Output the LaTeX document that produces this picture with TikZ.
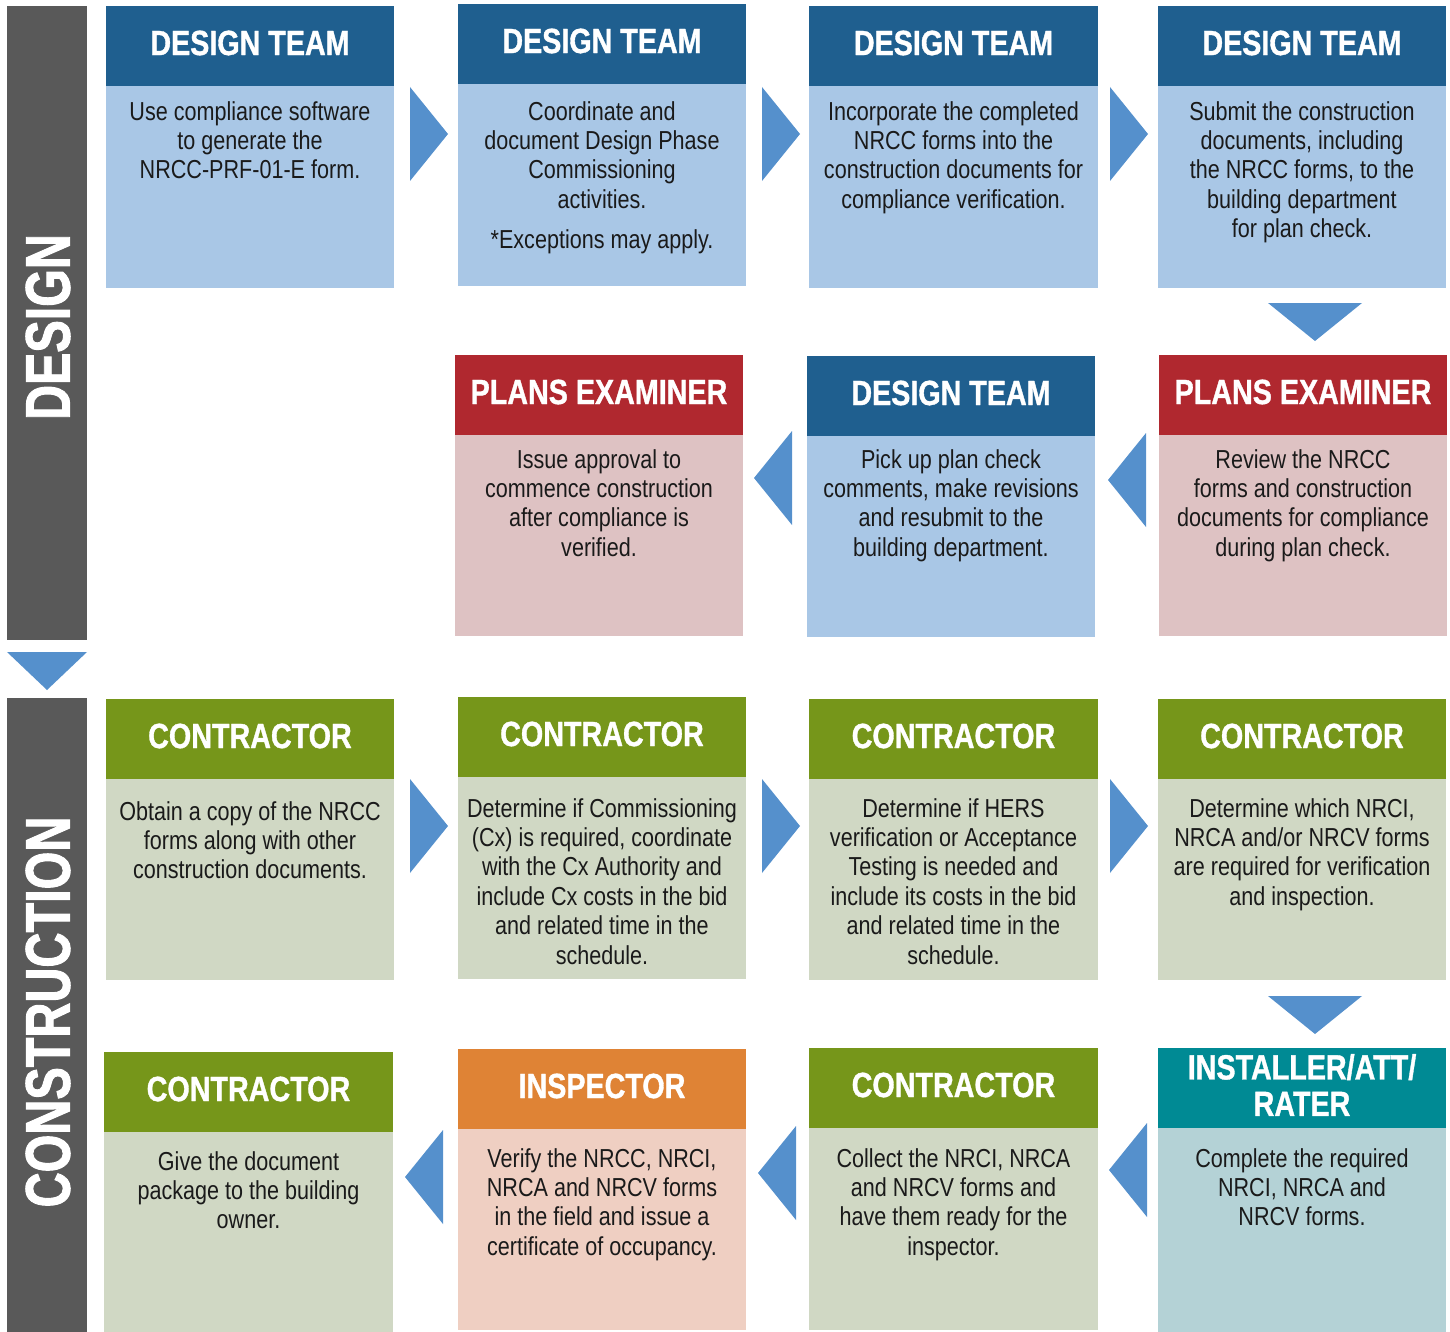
\documentclass[tikz,border=0pt]{standalone}
\usepackage{fontspec}
\setmainfont{Liberation Sans}[FakeStretch=0.83]
\newfontfamily\hdfont{Liberation Sans Bold}[FakeStretch=0.82, FakeBold=1]
\newfontfamily\sidefont{Liberation Sans Bold}[FakeStretch=0.77, FakeBold=1.5]
\definecolor{dtHead}{HTML}{1F5F8F}
\definecolor{dtBody}{HTML}{A9C7E6}
\definecolor{peHead}{HTML}{B0282F}
\definecolor{peBody}{HTML}{DEC2C3}
\definecolor{coHead}{HTML}{76961A}
\definecolor{coBody}{HTML}{D0D8C4}
\definecolor{inHead}{HTML}{DF8335}
\definecolor{inBody}{HTML}{EFCFC2}
\definecolor{raHead}{HTML}{008A94}
\definecolor{raBody}{HTML}{B4D2D6}
\definecolor{arrowBlue}{HTML}{5590CC}
\definecolor{barGray}{HTML}{595959}
\definecolor{bodyInk}{HTML}{1A1A1A}
\tikzset{
  boxrect/.style={draw=none, rectangle, inner sep=0pt, outer sep=0pt, anchor=north west},
  headtext/.style={font=\hdfont\fontsize{35}{36.5}\selectfont, text=white, inner sep=0pt, align=center},
  bodytext/.style={font=\fontsize{26}{29.4}\selectfont, text=bodyInk, inner sep=0pt, align=center, anchor=north},
  sidetext/.style={font=\sidefont\fontsize{63}{63}\selectfont, text=white, inner sep=0pt, rotate=90},
  flowarrow/.style={fill=arrowBlue, draw=none}
}
% #1 name, #2 left, #3 right, #4 top, #5 bottom, #6 scheme, #7 header, #8 first line y, #9 body
\newcommand\flowbox[9]{%
  \node[boxrect, fill=#6Body, minimum width={#3-#2}, minimum height={#5-#4}] (#1) at (#2,#4) {};
  \node[boxrect, fill=#6Head, minimum width={#3-#2}, minimum height=80] (#1-h) at (#2,#4) {};
  \node[headtext] (#1-ht) at ({(#2+#3)/2},{#4+37}) {#7};
  \node[bodytext] (#1-t) at ({(#2+#3)/2},{#8-10}) {#9};
}
\begin{document}
\begin{tikzpicture}[x=1pt,y=-1pt]
\useasboundingbox (0,0) rectangle (1450,1332);
% side bars
\node[boxrect, fill=barGray, minimum width=80, minimum height=634] (designbar) at (7,6) {};
\node[boxrect, fill=barGray, minimum width=80, minimum height=634] (constbar) at (7,698) {};
\node[sidetext] (designlbl) at (48,327) {DESIGN};
\node[sidetext] (constlbl) at (48,1012) {CONSTRUCTION};
\fill[flowarrow] (7,652) -- (87,652) -- (47,690) -- cycle;
% row 1
\flowbox{d1}{106}{394}{6}{288}{dt}{DESIGN TEAM}{111}{Use compliance software\\to generate the\\NRCC-PRF-01-E form.}
\flowbox{d2}{458}{746}{4}{286}{dt}{DESIGN TEAM}{111}{Coordinate and\\document Design Phase\\Commissioning\\activities.\\[10.6pt]*Exceptions may apply.}
\flowbox{d3}{809}{1098}{6}{288}{dt}{DESIGN TEAM}{111}{Incorporate the completed\\NRCC forms into the\\construction documents for\\compliance verification.}
\flowbox{d4}{1158}{1446}{6}{288}{dt}{DESIGN TEAM}{111}{Submit the construction\\documents, including\\the NRCC forms, to the\\building department\\for plan check.}
% row 2
\flowbox{p1}{455}{743}{355}{636}{pe}{PLANS EXAMINER}{459}{Issue approval to\\commence construction\\after compliance is\\verified.}
\flowbox{d5}{807}{1095}{356}{637}{dt}{DESIGN TEAM}{459}{Pick up plan check\\comments, make revisions\\and resubmit to the\\building department.}
\flowbox{p2}{1159}{1447}{355}{636}{pe}{PLANS EXAMINER}{459}{Review the NRCC\\forms and construction\\documents for compliance\\during plan check.}
% row 3
\flowbox{c1}{106}{394}{699}{980}{co}{CONTRACTOR}{811}{Obtain a copy of the NRCC\\forms along with other\\construction documents.}
\flowbox{c2}{458}{746}{697}{979}{co}{CONTRACTOR}{808}{Determine if Commissioning\\(Cx) is required, coordinate\\with the Cx Authority and\\include Cx costs in the bid\\and related time in the\\schedule.}
\flowbox{c3}{809}{1098}{699}{980}{co}{CONTRACTOR}{808}{Determine if HERS\\verification or Acceptance\\Testing is needed and\\include its costs in the bid\\and related time in the\\schedule.}
\flowbox{c4}{1158}{1446}{699}{980}{co}{CONTRACTOR}{808}{Determine which NRCI,\\NRCA and/or NRCV forms\\are required for verification\\and inspection.}
% row 4
\flowbox{c5}{104}{393}{1052}{1332}{co}{CONTRACTOR}{1161}{Give the document\\package to the building\\owner.}
\flowbox{i1}{458}{746}{1049}{1330}{in}{INSPECTOR}{1158}{Verify the NRCC, NRCI,\\NRCA and NRCV forms\\in the field and issue a\\certificate of occupancy.}
\flowbox{c6}{809}{1098}{1048}{1330}{co}{CONTRACTOR}{1158}{Collect the NRCI, NRCA\\and NRCV forms and\\have them ready for the\\inspector.}
\flowbox{r1}{1158}{1446}{1048}{1332}{ra}{INSTALLER/ATT/\\[0pt]RATER}{1158}{Complete the required\\NRCI, NRCA and\\NRCV forms.}
% arrows row 1
\fill[flowarrow] (410,87) -- (448,134) -- (410,181) -- cycle;
\fill[flowarrow] (762,87) -- (800,134) -- (762,181) -- cycle;
\fill[flowarrow] (1110,87) -- (1148,134) -- (1110,181) -- cycle;
\fill[flowarrow] (1268,303) -- (1362,303) -- (1315,341) -- cycle;
% arrows row 2
\fill[flowarrow] (792,431) -- (754,478) -- (792,525) -- cycle;
\fill[flowarrow] (1146,433) -- (1108,480) -- (1146,527) -- cycle;
% arrows row 3
\fill[flowarrow] (410,779) -- (448,826) -- (410,873) -- cycle;
\fill[flowarrow] (762,779) -- (800,826) -- (762,873) -- cycle;
\fill[flowarrow] (1110,779) -- (1148,826) -- (1110,873) -- cycle;
\fill[flowarrow] (1268,996) -- (1362,996) -- (1315,1034) -- cycle;
% arrows row 4
\fill[flowarrow] (443,1130) -- (405,1177) -- (443,1224) -- cycle;
\fill[flowarrow] (796,1126) -- (758,1173) -- (796,1220) -- cycle;
\fill[flowarrow] (1147,1123) -- (1109,1170) -- (1147,1217) -- cycle;
\end{tikzpicture}
\end{document}
